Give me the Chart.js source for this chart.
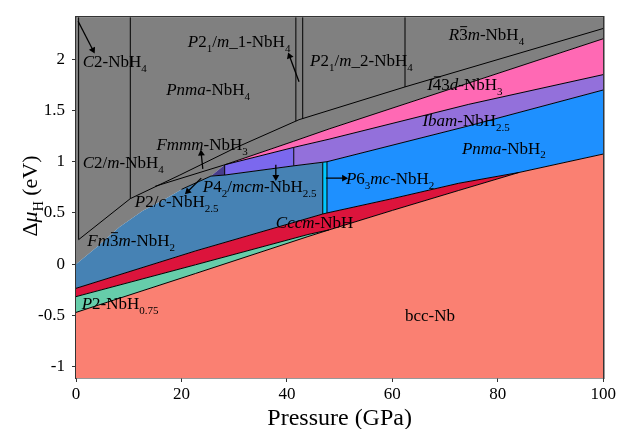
<!DOCTYPE html>
<html>
<head>
<meta charset="utf-8">
<script src="https://cdn.jsdelivr.net/npm/chart.js@4.4.0/dist/chart.umd.min.js"></script>
<style>
  html, body { margin: 0; padding: 0; background: #fff; }
</style>
</head>
<body>
<canvas id="phaseChart" width="618" height="429"></canvas>
<script>
const SERIF = "'Liberation Serif', 'Times New Roman', serif";
Chart.defaults.font.family = SERIF;
Chart.defaults.font.size = 17;
Chart.defaults.color = '#000';

// Ejes
const xTicks = [0, 20, 40, 60, 80, 100];
const xTickLabels = ['0', '20', '40', '60', '80', '100'];
const yTicks = [-1, -0.5, 0, 0.5, 1, 1.5, 2];
const yTickLabels = ['-1', '-0.5', '0', '0.5', '1', '1.5', '2'];
const yMin = -1.11, yMax = 2.41;

// Fronteras de fase [P (GPa), Δμ (eV)]
const bccTop   = [[0, -0.47], [22.7, -0.09], [44, 0.27], [48, 0.335], [60, 0.525], [72.6, 0.72], [84, 0.895], [100, 1.075]];
const p2Top    = [[0, -0.316], [22.7, -0.005], [44, 0.29], [48, 0.335]];
const cccmTop  = [[0, -0.235], [22.7, 0.13], [46.8, 0.49], [47.6, 0.50], [60, 0.64], [72.6, 0.79], [84, 0.895]];
const blueTop  = [[0, 0], [3.8, 0.16], [8.2, 0.36], [12.6, 0.52], [17, 0.64], [20, 0.73], [25.6, 0.86], [28.2, 0.87],
                  [41.3, 0.96], [46.8, 0.995], [47.6, 1.0], [74.5, 1.35], [100, 1.70]];
const ibamTop  = [[28.2, 0.97], [41.3, 1.14], [48, 1.22], [74.5, 1.56], [100, 1.85]];
const i43dTop  = [[28.2, 0.97], [41.3, 1.20], [48, 1.32], [100, 2.20]];
const nbh4Base = [[0.5, 0.24], [10.3, 0.64], [19.7, 0.87], [30, 1.13], [42.3, 1.41], [62.4, 1.73], [100, 2.30]];
const fmmmBase = [[15, 0.76], [28.2, 0.97]];
const wedge    = [[25.6, 0.86], [28.2, 0.87], [28.2, 0.97]];

// Lineas verticales
const vertP    = [0.5, 10.3, 41.7, 43.0, 62.4, 28.2, 41.3, 46.8, 47.6];
const vertFrom = [0.24, 0.64, 1.395, 1.42, 1.73, 0.87, 0.96, 0.49, 0.50];
const vertTo   = [yMax, yMax, yMax, yMax, yMax, 0.97, 1.14, 0.995, 1.0];

// Flechas (cola -> punta)
const arrowTail = [[0.4, 2.37], [42.3, 1.78], [24.05, 0.93], [23.75, 0.84], [37.9, 0.97], [47.4, 0.84]];
const arrowHead = [[3.2, 2.09], [40.5, 2.03], [23.75, 1.08], [21.2, 0.71], [37.9, 0.85], [50.85, 0.84]];

// Etiquetas: *cursiva*, [subindice], {barra}
const labelText = [
  '*C*2-NbH[4]', '*Pnma*-NbH[4]', '*P*2[1]/*m*_1-NbH[4]', '*P*2[1]/*m*_2-NbH[4]', '*R*{3}*m*-NbH[4]',
  '*I*{4}3*d*-NbH[3]', '*Ibam*-NbH[2.5]', '*Pnma*-NbH[2]', '*Fmmm*-NbH[3]', '*C*2/*m*-NbH[4]',
  '*P*4[2]/*mcm*-NbH[2.5]', '*P*6[3]*mc*-NbH[2]', '*P*2/*c*-NbH[2.5]', '*Fm*{3}*m*-NbH[2]',
  '*Cccm*-NbH', '*P*2-NbH[0.75]', 'bcc-Nb'
];
const labelPos = [
  [1.27, 1.92], [17.1, 1.65], [21.2, 2.12], [44.4, 1.93], [70.7, 2.19],
  [66.6, 1.70], [65.7, 1.35], [73.2, 1.08], [15.25, 1.11], [1.27, 0.94],
  [24.06, 0.70], [51.2, 0.78], [11.15, 0.56], [2.14, 0.18],
  [37.9, 0.354], [1.08, -0.435], [62.4, -0.55]
];

const toXY = pts => pts.map(p => ({ x: p[0], y: p[1] }));
const part = (line, a, b) => line.filter(p => p[0] >= a && p[0] <= b);
const polygon = (lower, upper) => toXY(lower.concat(upper.slice().reverse()));

function region(data, color, fill) {
  return { data, backgroundColor: color, borderColor: 'transparent', borderWidth: 0,
           pointRadius: 0, showLine: true, fill: fill || 'shape' };
}
function boundary(pts) {
  return { data: toXY(pts), borderColor: '#000', borderWidth: 1, pointRadius: 0, showLine: true, fill: false };
}

const datasets = [
  region(toXY(bccTop), '#fa8072', 'start'),
  region(polygon(part(bccTop, 0, 48), p2Top), '#66cdaa'),
  region(polygon(p2Top.concat(part(bccTop, 48.01, 84)), cccmTop), '#dc143c'),
  region(polygon(part(cccmTop, 0, 46.8), part(blueTop, 0, 46.8)), '#4682b4'),
  region(polygon(part(cccmTop, 46.8, 47.6), part(blueTop, 46.8, 47.6)), '#00c8ff'),
  region(polygon(part(cccmTop, 47.6, 84).concat(part(bccTop, 84.01, 100)), part(blueTop, 47.6, 100)), '#1e90ff'),
  region(toXY(wedge), '#483d8b'),
  region(polygon(part(blueTop, 28.2, 41.3), part(ibamTop, 28.2, 41.3)), '#7b68ee'),
  region(polygon(part(blueTop, 41.3, 100), part(ibamTop, 41.3, 100)), '#9370db'),
  region(polygon(ibamTop, i43dTop), '#ff69b4'),
  region(toXY(part(blueTop, 0, 25.6).concat(i43dTop)), '#808080', 'end'),
  boundary(bccTop), boundary(p2Top), boundary(cccmTop), boundary(part(blueTop, 19, 100)),
  boundary(ibamTop), boundary(i43dTop), boundary(nbh4Base), boundary(fmmmBase)
];
vertP.forEach((p, i) => datasets.push(boundary([[p, vertFrom[i]], [p, vertTo[i]]])));
arrowTail.forEach((t, i) => datasets.push({
  data: toXY([t, arrowHead[i]]),
  borderColor: '#000', borderWidth: 1.3, showLine: true, fill: false,
  pointStyle: 'triangle', pointBackgroundColor: '#000', pointBorderColor: '#000', pointBorderWidth: 0,
  pointRadius: c => c.dataIndex === 1 ? 4 : 0,
  pointRotation: c => {
    const d = c.dataset.data, sx = c.chart.scales.x, sy = c.chart.scales.y;
    const dx = sx.getPixelForValue(d[1].x) - sx.getPixelForValue(d[0].x);
    const dy = sy.getPixelForValue(d[1].y) - sy.getPixelForValue(d[0].y);
    return Math.atan2(dx, -dy) * 180 / Math.PI;
  }
}));

// Texto con cursivas, subindices y barras
function drawRich(ctx, markup, x, y, size, measureOnly) {
  const parts = markup.split(/(\*[^*]+\*|\[[^\]]+\]|\{[^}]+\})/).filter(s => s);
  let cx = x;
  for (const p of parts) {
    let txt = p, font = size + 'px ' + SERIF, dy = 0;
    if (p[0] === '*') { txt = p.slice(1, -1); font = 'italic ' + size + 'px ' + SERIF; }
    else if (p[0] === '[') { txt = p.slice(1, -1); font = Math.round(size * 0.65) + 'px ' + SERIF; dy = size * 0.28; }
    else if (p[0] === '{') { txt = p.slice(1, -1); }
    ctx.font = font;
    const w = ctx.measureText(txt).width;
    if (!measureOnly) {
      ctx.fillText(txt, cx, y + dy);
      if (p[0] === '{') {
        ctx.fillRect(cx + 1, y - size * 0.8, w - 1.5, 1);
      }
    }
    cx += w;
  }
  return cx - x;
}

const textPlugin = {
  id: 'phaseText',
  afterDatasetsDraw(chart) {
    const { ctx, scales: { x, y } } = chart;
    ctx.save();
    ctx.fillStyle = '#000';
    ctx.textBaseline = 'alphabetic';
    ctx.textAlign = 'left';
    labelText.forEach((t, i) => {
      drawRich(ctx, t, x.getPixelForValue(labelPos[i][0]), y.getPixelForValue(labelPos[i][1]), 17);
    });
    ctx.restore();
  },
  afterDraw(chart) {
    const { ctx, chartArea } = chart;
    ctx.save();
    ctx.fillStyle = '#000';
    ctx.textBaseline = 'alphabetic';
    ctx.textAlign = 'left';
    // titulo eje x
    ctx.font = '24px ' + SERIF;
    const xt = 'Pressure (GPa)';
    const wx = ctx.measureText(xt).width;
    ctx.fillText(xt, (chartArea.left + chartArea.right) / 2 - wx / 2, 425);
    // titulo eje y
    const yt = 'Δ*μ*[H] (eV)';
    const wy = drawRich(ctx, yt, 0, 0, 22, true);
    ctx.translate(37, 196);
    ctx.rotate(-Math.PI / 2);
    drawRich(ctx, yt, -wy / 2, 0, 22);
    ctx.restore();
  }
};

const frame = { display: true, color: '#333', width: 1.5 };
const tickFont = { family: SERIF, size: 17 };

new Chart(document.getElementById('phaseChart'), {
  type: 'scatter',
  data: { datasets },
  options: {
    responsive: false,
    animation: false,
    events: [],
    layout: { padding: { top: 14, right: 13, left: 0, bottom: 0 } },
    plugins: {
      legend: { display: false },
      tooltip: { enabled: false },
      filler: { drawTime: 'beforeDatasetsDraw' }
    },
    scales: {
      x: {
        type: 'linear', position: 'bottom', min: 0, max: 100, z: 1,
        afterBuildTicks: s => { s.ticks = xTicks.map(v => ({ value: v })); },
        afterFit: s => { s.height = 51; },
        ticks: { color: '#000', padding: 2, font: tickFont, callback: (v, i) => xTickLabels[i] },
        grid: { drawOnChartArea: false, drawTicks: true, tickLength: 4, color: '#333' },
        border: frame
      },
      y: {
        type: 'linear', position: 'left', min: yMin, max: yMax, z: 1,
        afterBuildTicks: s => { s.ticks = yTicks.map(v => ({ value: v })); },
        afterFit: s => { s.width = 76; },
        ticks: { color: '#000', padding: 7, font: tickFont, callback: (v, i) => yTickLabels[i] },
        grid: { drawOnChartArea: false, drawTicks: true, tickLength: 4, color: '#333' },
        border: frame
      },
      x2: {
        type: 'linear', position: 'top', min: 0, max: 100, z: 1,
        afterFit: s => { s.height = 0; },
        ticks: { display: false }, grid: { display: false, drawTicks: false }, border: frame
      },
      y2: {
        type: 'linear', position: 'right', min: yMin, max: yMax, z: 1,
        afterFit: s => { s.width = 0; },
        ticks: { display: false }, grid: { display: false, drawTicks: false }, border: frame
      }
    }
  },
  plugins: [textPlugin]
});
</script>
</body>
</html>
